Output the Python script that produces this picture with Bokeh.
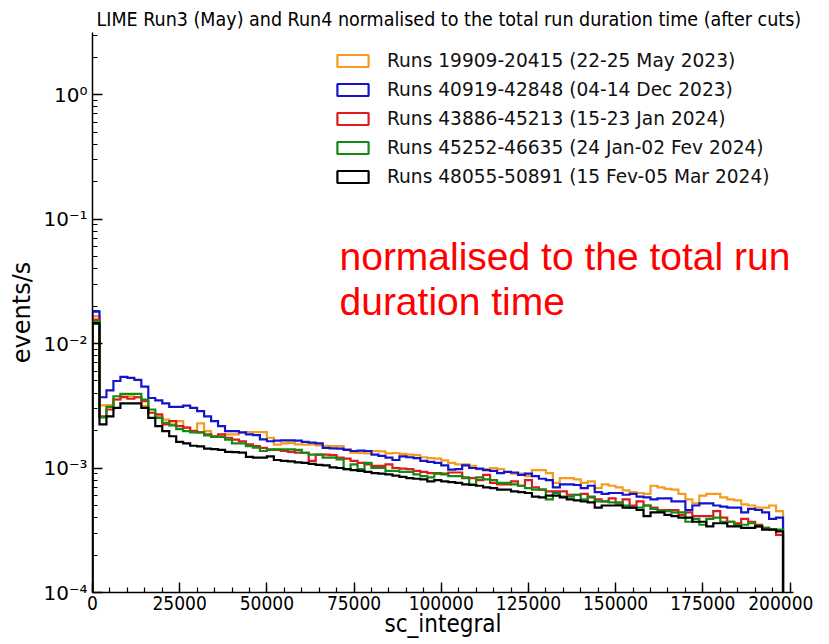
import numpy as np
from bokeh.plotting import figure
from bokeh.models import (Legend, LegendItem, Label, SingleIntervalTicker, LogTicker,
                          CustomJSTickFormatter, NumeralTickFormatter)
from bokeh.embed import file_html
from bokeh.resources import INLINE

# ---------------- data (rates in units of 1e-3 events/s, 2000-wide bins from 0) ----------------
BIN_WIDTH = 2000

series_labels = [
    "Runs 19909-20415 (22-25 May 2023)",
    "Runs 40919-42848 (04-14 Dec 2023)",
    "Runs 43886-45213 (15-23 Jan 2024)",
    "Runs 45252-46635 (24 Jan-02 Fev 2024)",
    "Runs 48055-50891 (15 Fev-05 Mar 2024)",
]
series_colors = ["#f39c1f", "#1414cc", "#e01b1b", "#138a13", "#000000"]

rate_may2023 = [
    16.6, 3.18, 3.2, 3.55, 3.77, 3.77, 3.7, 3.14, 2.78, 2.6, 2.45, 2.24, 2.38, 2.11, 2.0, 2.28,
    1.98, 1.78, 1.80, 1.86, 1.86, 1.92, 1.94, 1.94,
    1.94, 1.75, 1.54, 1.58, 1.59, 1.55, 1.54, 1.55, 1.52, 1.51, 1.50, 1.50, 1.41, 1.33, 1.32, 1.31,
    1.37, 1.36, 1.31, 1.32, 1.30, 1.28, 1.27, 1.22, 1.20,
    1.19, 1.15, 1.10, 1.07, 1.07, 1.04, 0.98, 0.98, 1.00, 0.98, 0.93, 0.90, 0.90, 0.86, 0.96, 0.96,
    0.91, 0.76, 0.83, 0.83, 0.81, 0.76, 0.78, 0.69,
    0.74, 0.72, 0.70, 0.66, 0.64, 0.63, 0.62, 0.72, 0.70, 0.68, 0.67, 0.62, 0.56, 0.52, 0.60, 0.62,
    0.62, 0.58, 0.56, 0.55, 0.51, 0.50, 0.48, 0.48, 0.50, 0.45,
]
rate_dec2023 = [
    18.1, 3.7, 4.2, 5.0, 5.4, 5.3, 5.1, 4.5, 3.65, 3.5, 3.3, 3.1, 3.1, 3.17, 3.04, 2.86, 2.6, 2.38,
    2.17, 1.98, 1.98, 1.93, 1.86, 1.84,
    1.70, 1.64, 1.66, 1.67, 1.67, 1.66, 1.62, 1.60, 1.58, 1.45, 1.44, 1.43, 1.40, 1.37, 1.38, 1.37,
    1.28, 1.25, 1.21, 1.16, 1.24, 1.22, 1.20, 1.14, 1.12,
    1.10, 1.05, 0.97, 0.98, 1.05, 1.00, 0.99, 0.96, 0.95, 0.91, 0.93, 0.92, 0.88, 0.90, 0.86, 0.82,
    0.80, 0.70, 0.74, 0.74, 0.73, 0.69, 0.72, 0.64,
    0.62, 0.63, 0.63, 0.61, 0.62, 0.59, 0.58, 0.56, 0.57, 0.57, 0.54, 0.54, 0.46, 0.50, 0.52, 0.52,
    0.50, 0.49, 0.48, 0.48, 0.44, 0.47, 0.46, 0.44, 0.39, 0.40,
]
rate_jan2024 = [
    15.5, 2.6, 2.95, 3.55, 3.71, 3.6, 3.7, 3.44, 2.78, 2.7, 2.24, 2.38, 2.17, 2.11, 1.98, 1.93, 1.86,
    1.80, 1.86, 1.75, 1.69, 1.64, 1.55, 1.50,
    1.45, 1.41, 1.40, 1.37, 1.35, 1.33, 1.32, 1.14, 1.28, 1.28, 1.27, 1.21, 1.19, 1.14, 1.10, 1.07,
    1.04, 1.04, 1.07, 1.00, 0.99, 0.98, 0.95, 0.93, 0.91,
    0.91, 0.90, 0.92, 0.92, 0.83, 0.83, 0.80, 0.88, 0.76, 0.74, 0.74, 0.78, 0.72, 0.80, 0.70, 0.67,
    0.65, 0.65, 0.65, 0.61, 0.61, 0.62, 0.58, 0.56,
    0.54, 0.57, 0.51, 0.56, 0.50, 0.54, 0.50, 0.48, 0.46, 0.46, 0.46, 0.42, 0.44, 0.41, 0.41, 0.41,
    0.45, 0.40, 0.37, 0.36, 0.39, 0.37, 0.35, 0.33, 0.32, 0.29,
]
rate_janfeb2024 = [
    15.0, 2.55, 3.1, 3.77, 3.94, 3.94, 3.94, 3.55, 2.95, 2.53, 2.31, 2.20, 2.05, 1.98, 1.93, 1.93,
    1.83, 1.78, 1.78, 1.69, 1.58, 1.58, 1.50, 1.46,
    1.37, 1.40, 1.41, 1.41, 1.41, 1.40, 1.33, 1.28, 1.28, 1.21, 1.21, 1.17, 0.98, 1.07, 0.98, 1.10,
    1.00, 1.00, 0.95, 0.95, 0.93, 0.93, 0.89, 0.86, 0.84,
    0.90, 0.89, 0.86, 0.86, 0.84, 0.74, 0.84, 0.81, 0.80, 0.76, 0.76, 0.74, 0.72, 0.69, 0.67, 0.67,
    0.56, 0.63, 0.59, 0.59, 0.61, 0.56, 0.59, 0.54,
    0.54, 0.53, 0.53, 0.50, 0.48, 0.48, 0.50, 0.47, 0.45, 0.45, 0.44, 0.44, 0.37, 0.39, 0.35, 0.39,
    0.40, 0.37, 0.37, 0.35, 0.35, 0.36, 0.34, 0.33, 0.32, 0.32,
]
rate_febmar2024 = [
    14.5, 2.24, 2.6, 3.04, 3.3, 3.3, 3.3, 3.04, 2.53, 2.17, 1.98, 1.80, 1.62, 1.58, 1.51, 1.49, 1.43,
    1.42, 1.40, 1.35, 1.34, 1.33, 1.23, 1.21,
    1.21, 1.24, 1.16, 1.14, 1.13, 1.11, 1.10, 1.08, 1.06, 1.05, 1.01, 1.00, 0.98, 0.96, 0.95, 0.93,
    0.91, 0.90, 0.89, 0.87, 0.85, 0.83, 0.82, 0.81, 0.78,
    0.80, 0.78, 0.77, 0.76, 0.74, 0.73, 0.72, 0.70, 0.69, 0.67, 0.67, 0.65, 0.64, 0.63, 0.59, 0.58,
    0.60, 0.60, 0.58, 0.56, 0.55, 0.54, 0.53, 0.48,
    0.50, 0.50, 0.50, 0.48, 0.48, 0.46, 0.41, 0.44, 0.44, 0.42, 0.41, 0.40, 0.40, 0.37, 0.37, 0.34,
    0.36, 0.36, 0.34, 0.34, 0.33, 0.33, 0.34, 0.32, 0.32, 0.31,
]
all_rates = [rate_may2023, rate_dec2023, rate_jan2024, rate_janfeb2024, rate_febmar2024]

x_ticks_interval = 25000
title_text = "LIME Run3 (May) and Run4 normalised to the total run duration time (after cuts)"
note_lines = ["normalised to the total run", "duration time"]

# ---------------- figure ----------------
COND = "DejaVu Sans Condensed"
REG = "DejaVu Sans"
FLOOR = 1e-7  # step outline starts/ends at zero (below the visible range)

p = figure(frame_width=701, frame_height=560, x_range=(0, 201000), y_range=(1e-4, 3.15),
           y_axis_type="log", output_backend="svg", toolbar_location=None,
           min_border_left=92, min_border_right=20, min_border_top=32, min_border_bottom=30)
p.outline_line_color = None
p.xgrid.visible = False
p.ygrid.visible = False
p.background_fill_color = "white"
p.border_fill_color = "white"

p.title.text = title_text
p.title.align = "left"
p.title.text_font = COND
p.title.text_font_size = "19.5px"
p.title.text_font_style = "normal"
p.title.text_color = "black"
p.title.standoff = 4
p.title.offset = 4

legend_items = []
for rates, color, label in zip(all_rates, series_colors, series_labels):
    v = np.asarray(rates, dtype=float) * 1e-3
    edges = np.arange(len(v) + 1) * BIN_WIDTH
    xs = np.repeat(edges, 2)
    ys = np.concatenate([[FLOOR], np.repeat(v, 2), [FLOOR]])
    p.line(xs, ys, line_color=color, line_width=2.2, line_join="miter")
    # zero-height box lying on the first bin's top: invisible on the plot, gives the
    # legend its open rectangle patch
    proxy = p.quad(left=[edges[0]], right=[edges[1]], top=[v[0]], bottom=[v[0]],
                   fill_alpha=0, line_color=color, line_width=2.2)
    legend_items.append(LegendItem(label=label, renderers=[proxy]))

legend = Legend(items=legend_items, location=(241, 405), orientation="vertical",
                glyph_width=39, glyph_height=15, label_standoff=15, spacing=7, padding=0, margin=0,
                label_height=22, border_line_alpha=0, background_fill_alpha=0,
                label_text_font=REG, label_text_font_size="18.6px", label_text_color="#111111")
p.add_layout(legend)

# axes
p.xaxis.ticker = SingleIntervalTicker(interval=x_ticks_interval, num_minor_ticks=5)
p.xaxis.formatter = NumeralTickFormatter(format="0")
p.yaxis.ticker = LogTicker(num_minor_ticks=10)
p.yaxis.formatter = CustomJSTickFormatter(code="""
const e = Math.round(Math.log10(tick));
const m = {'-':'\u207b','0':'\u2070','1':'\u00b9','2':'\u00b2','3':'\u00b3','4':'\u2074',
           '5':'\u2075','6':'\u2076','7':'\u2077','8':'\u2078','9':'\u2079'};
return '10' + String(e).split('').map(c => m[c]).join('');
""")
for ax in (p.xaxis[0], p.yaxis[0]):
    ax.major_tick_in = 10
    ax.major_tick_out = 0
    ax.minor_tick_in = 5
    ax.minor_tick_out = 0
    ax.major_tick_line_width = 1.4
    ax.minor_tick_line_width = 1.2
    ax.axis_line_width = 1.5
    ax.axis_line_color = "black"
    ax.major_tick_line_color = "black"
    ax.minor_tick_line_color = "black"
    ax.major_label_text_color = "black"
    ax.axis_label_text_color = "black"
    ax.axis_label_text_font_style = "normal"

p.xaxis.major_label_text_font = COND
p.yaxis.major_label_text_font = REG
p.xaxis.major_label_text_font_size = "19px"
p.yaxis.major_label_text_font_size = "20px"
p.xaxis.major_label_standoff = 3
p.yaxis.major_label_standoff = 5
p.xaxis.axis_label = "sc_integral"
p.yaxis.axis_label = "events/s"
p.xaxis.axis_label_text_font = COND
p.yaxis.axis_label_text_font = REG
p.xaxis.axis_label_text_font_size = "24px"
p.yaxis.axis_label_text_font_size = "24px"
p.xaxis.axis_label_standoff = -3
p.yaxis.axis_label_standoff = 4

# red note
for i, line in enumerate(note_lines):
    p.add_layout(Label(x=247, y=336 - 45 * i, x_units="screen", y_units="screen", text=line,
                       text_align="left", text_baseline="alphabetic", text_font="Liberation Sans",
                       text_font_size="39px", text_color="#ff0000"))

open("out.html", "w").write(file_html(p, INLINE))
